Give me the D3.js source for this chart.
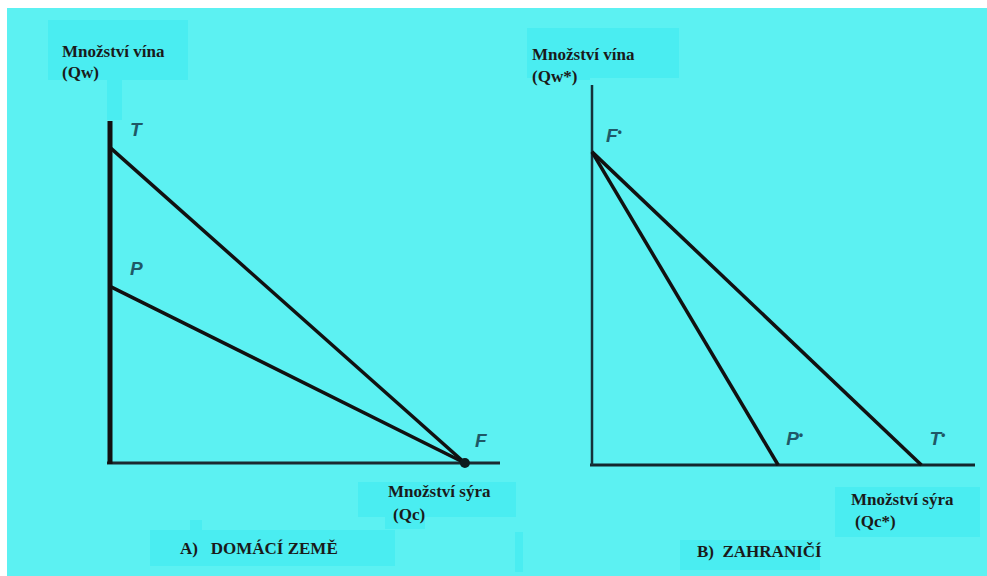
<!DOCTYPE html>
<html>
<head>
<meta charset="utf-8">
<script src="https://cdn.jsdelivr.net/npm/d3@7"></script>
<style>
  body { margin: 0; background: #fff; }
  svg { display: block; }
  text { white-space: pre; }
</style>
</head>
<body>
<div id="chart"></div>
<script>
/* Two production possibility frontiers: home (A) and foreign (B) */

// home country: intercepts on the wine axis (Qw) and cheese axis (Qc)
const homeLines = [
  { name: "T", wine: 92, cheese: 91 },
  { name: "P", wine: 51.5, cheese: 91 }
];
const homeCheeseEnd = { name: "F", cheese: 91 };

// foreign country: common wine intercept F*, cheese intercepts P* and T*
const foreignWine = { name: "F*", wine: 82.4 };
const foreignLines = [
  { name: "P*", cheese: 48.6 },
  { name: "T*", cheese: 86 }
];

const axisLabels = {
  wine: "Množství vína",
  cheese: "Množství sýra"
};
const panelTitles = ["A)   DOMÁCÍ ZEMĚ", "B)  ZAHRANIČÍ"];

const width = 987, height = 576;
const bg = "#5cf1f2", box = "#4aedf1", ink = "#111", letterInk = "#1f5866";

const svg = d3.select("#chart")
  .append("svg")
  .attr("width", width)
  .attr("height", height);

svg.append("rect")
  .attr("x", 7).attr("y", 8)
  .attr("width", width - 7).attr("height", height - 8)
  .attr("fill", bg);

// slightly darker patches behind the labels
const patches = [
  [48, 20, 140, 60], [107, 80, 15, 40],
  [527, 28, 152, 50], [570, 60, 20, 20],
  [358, 482, 158, 35], [385, 517, 40, 12], [515, 532, 8, 40],
  [150, 530, 245, 36], [190, 520, 12, 10],
  [835, 487, 145, 50], [680, 540, 140, 30]
];
svg.append("g").selectAll("rect")
  .data(patches)
  .join("rect")
  .attr("x", d => d[0]).attr("y", d => d[1])
  .attr("width", d => d[2]).attr("height", d => d[3])
  .attr("fill", box);

const labelFont = "'Liberation Serif', 'DejaVu Serif', serif";
const letterFont = "'Liberation Sans', Arial, sans-serif";

function label(x, y, t, size = 17) {
  svg.append("text")
    .attr("x", x).attr("y", y)
    .attr("font-family", labelFont)
    .attr("font-weight", "bold")
    .attr("font-size", size)
    .attr("fill", "#1a1a1a")
    .text(t);
}

function letter(x, y, t) {
  const tx = svg.append("text")
    .attr("x", x).attr("y", y)
    .attr("font-family", letterFont)
    .attr("font-style", "italic")
    .attr("font-weight", "bold")
    .attr("font-size", 19)
    .attr("fill", letterInk);
  tx.append("tspan").text(t[0]);
  if (t.length > 1) {
    tx.append("tspan")
      .attr("font-size", 12)
      .attr("dy", -6)
      .text("•");
  }
}

/* ---- panel A ---- */
const xA = d3.scaleLinear().domain([0, 100]).range([110, 500]);
const yA = d3.scaleLinear().domain([0, 100]).range([463, 121]);

svg.append("line")
  .attr("x1", xA(0) - 3).attr("x2", xA(100))
  .attr("y1", yA(0)).attr("y2", yA(0))
  .attr("stroke", "#1b2a30").attr("stroke-width", 3);
svg.append("line")
  .attr("x1", xA(0)).attr("x2", xA(0))
  .attr("y1", yA(100)).attr("y2", yA(0) + 1)
  .attr("stroke", ink).attr("stroke-width", 5);

svg.append("g").selectAll("line")
  .data(homeLines)
  .join("line")
  .attr("x1", xA(0) + 1).attr("y1", d => yA(d.wine))
  .attr("x2", d => xA(d.cheese)).attr("y2", yA(0))
  .attr("stroke", ink).attr("stroke-width", 3.5);

svg.append("circle")
  .attr("cx", xA(homeCheeseEnd.cheese)).attr("cy", yA(0))
  .attr("r", 5).attr("fill", "#0d1a1e");

homeLines.forEach(d => letter(xA(0) + 20, yA(d.wine) - 12, d.name));
letter(xA(homeCheeseEnd.cheese) + 10, yA(0) - 16, homeCheeseEnd.name);

label(62, 57, axisLabels.wine);
label(62, 78, "(Qw)");
label(388, 497, axisLabels.cheese);
label(393, 520, "(Qc)");
label(180, 554, panelTitles[0]);

/* ---- panel B ---- */
const xB = d3.scaleLinear().domain([0, 100]).range([592, 975]);
const yB = d3.scaleLinear().domain([0, 100]).range([465, 85]);

svg.append("line")
  .attr("x1", xB(0) - 2).attr("x2", xB(100))
  .attr("y1", yB(0)).attr("y2", yB(0))
  .attr("stroke", "#13272d").attr("stroke-width", 3);
svg.append("line")
  .attr("x1", xB(0)).attr("x2", xB(0))
  .attr("y1", yB(100)).attr("y2", yB(0))
  .attr("stroke", "#15323a").attr("stroke-width", 2.5);

svg.append("g").selectAll("line")
  .data(foreignLines)
  .join("line")
  .attr("x1", xB(0)).attr("y1", yB(foreignWine.wine))
  .attr("x2", d => xB(d.cheese)).attr("y2", yB(0))
  .attr("stroke", ink).attr("stroke-width", 3.5);

letter(xB(0) + 14, yB(foreignWine.wine) - 10, foreignWine.name);
foreignLines.forEach(d => letter(xB(d.cheese) + 8, yB(0) - 20, d.name));

label(532, 60, axisLabels.wine);
label(532, 82, "(Qw*)");
label(851, 505, axisLabels.cheese);
label(855, 527, "(Qc*)");
label(697, 557, panelTitles[1]);
</script>
</body>
</html>
